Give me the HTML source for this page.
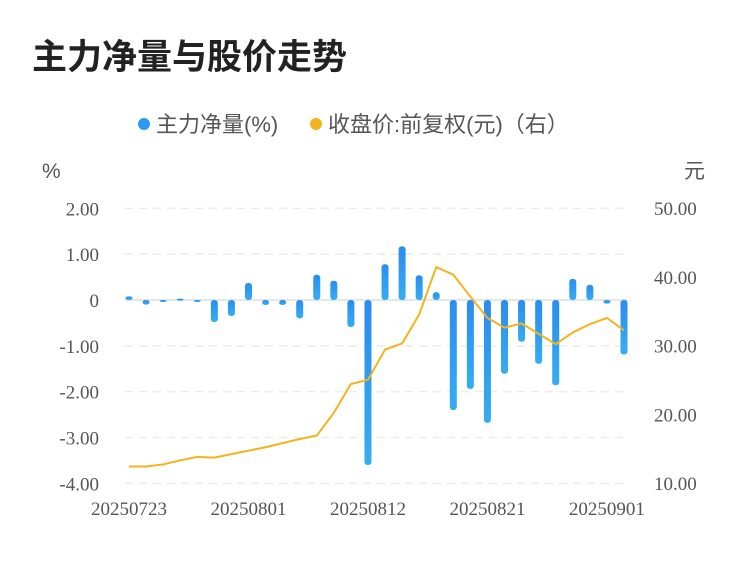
<!DOCTYPE html>
<html><head><meta charset="utf-8"><style>
body{margin:0;background:#fff;width:750px;height:558px;overflow:hidden;font-family:"Liberation Sans","Noto Sans CJK SC",sans-serif;}
</style></head><body>
<svg width="750" height="558" xmlns="http://www.w3.org/2000/svg">
<defs><linearGradient id="bg" x1="0" y1="0" x2="0" y2="1"><stop offset="0" stop-color="#2a8df0"/><stop offset="1" stop-color="#35adf2"/></linearGradient></defs>
<text x="32" y="69" font-size="35" font-weight="bold" fill="#222" font-family="Liberation Sans,Noto Sans CJK SC,sans-serif">主力净量与股价走势</text>
<g font-size="22" fill="#555">
<circle cx="144" cy="124" r="6" fill="#2a9af0"/>
<text x="156" y="132">主力净量(%)</text>
<circle cx="316" cy="124" r="6" fill="#f5b21c"/>
<text x="328" y="132">收盘价:前复权(元)（右）</text>
</g>
<text x="42" y="178" font-size="21" fill="#555">%</text>
<text x="684" y="178" font-size="21" fill="#555">元</text>
<g id="grid"></g><g id="yl"></g><g id="yr"></g><g id="bars"></g><g id="line"></g><g id="xl"></g>
</svg>
<script>
const dates=["20250723","20250724","20250725","20250728","20250729","20250730","20250731","20250801","20250804","20250805","20250806","20250807","20250808","20250811","20250812","20250813","20250814","20250815","20250818","20250819","20250820","20250821","20250822","20250825","20250826","20250827","20250828","20250829","20250901","20250902"];
const netValues=[0.08,-0.1,-0.04,0.03,-0.02,-0.48,-0.35,0.37,-0.11,-0.11,-0.4,0.55,0.42,-0.59,-3.6,0.78,1.17,0.54,0.17,-2.4,-1.94,-2.68,-1.61,-0.91,-1.39,-1.86,0.46,0.33,-0.08,-1.19];
const priceValues=[12.4,12.4,12.7,13.3,13.8,13.7,14.2,14.7,15.2,15.8,16.4,16.9,20.2,24.4,25.0,29.4,30.3,34.5,41.4,40.3,37.1,34.0,32.6,33.2,31.7,30.2,31.9,33.1,34.0,32.2];
const leftTicks=[2,1,0,-1,-2,-3,-4];
const leftTickLabels=["2.00","1.00","0","-1.00","-2.00","-3.00","-4.00"];
const rightTicks=[50,40,30,20,10];
const rightTickLabels=["50.00","40.00","30.00","20.00","10.00"];
const xLabelIdx=[0,7,14,21,28];
const NS="http://www.w3.org/2000/svg";
const yL=v=>300-v*45.83;
const yR=v=>483-(v-10)*6.875;
const xS=i=>129+i*(624-129)/(dates.length-1);
function mk(t,a,p){const e=document.createElementNS(NS,t);for(const k in a)e.setAttribute(k,a[k]);document.getElementById(p).appendChild(e);return e;}
leftTicks.forEach((v,i)=>{
 const g=mk('line',{x1:125,x2:628,y1:yL(v),y2:yL(v),stroke:v===0?'#e6e6e6':'#ececec','stroke-width':v===0?2:1.5,'stroke-dasharray':v===0?'':'8,6'},'grid');
 
 
 const t=mk('text',{x:99,y:yL(v)+7,'text-anchor':'end','font-size':19,fill:'#555','font-family':'Liberation Serif,serif'},'yl');
 t.textContent=leftTickLabels[i];
 
 
});
rightTicks.forEach((v,i)=>{
 const t=mk('text',{x:654,y:yR(v)+7,'font-size':19,fill:'#555','font-family':'Liberation Serif,serif'},'yr');
 t.textContent=rightTickLabels[i];
 
 
});
netValues.forEach((v,i)=>{
 const y0=yL(0),y1=yL(v);
 const r=mk('rect',{x:xS(i)-3.5,y:Math.min(y0,y1),width:7,height:Math.max(Math.abs(y1-y0),2),rx:3,fill:'url(#bg)'},'bars');
 
 
});
const pl=mk('polyline',{points:priceValues.map((v,i)=>xS(i)+','+yR(v)).join(' '),fill:'none',stroke:'#f5b21c','stroke-width':2},'line');


xLabelIdx.forEach(i=>{
 const t=mk('text',{x:Math.min(xS(i),607),y:515,'text-anchor':'middle','font-size':19,fill:'#555','font-family':'Liberation Serif,serif'},'xl');
 t.textContent=dates[i];
 
 
});
</script>
</body></html>
